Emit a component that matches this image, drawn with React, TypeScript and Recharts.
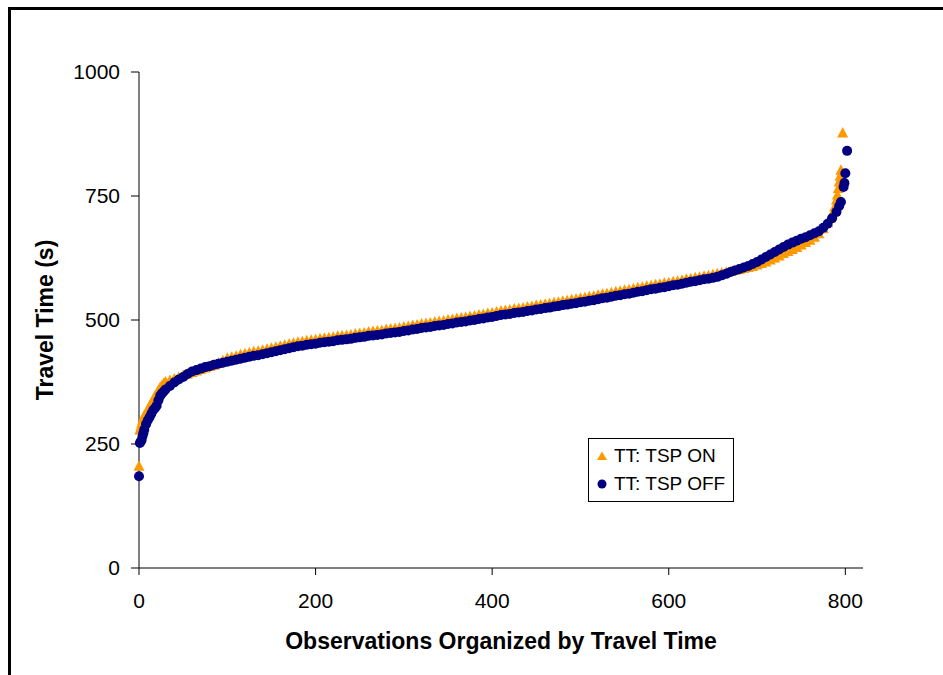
import { Label, Legend, Scatter, ScatterChart, XAxis, YAxis } from "recharts";

const tspOnPoints: [number, number][] = [
  [0, 205], [1, 278], [2, 285], [3, 292], [4, 298], [5, 303], [6, 307], [8, 313], [10, 319], [12, 326],
  [14, 333], [16, 339], [18, 346], [20, 352], [22, 358], [24, 364], [26, 368], [28, 372], [30, 375], [35, 378],
  [40, 381], [45, 384], [50, 388], [55, 391], [60, 394], [65, 397], [70, 400], [75, 403], [80, 406], [85, 409],
  [90, 413], [95, 418], [100, 423], [105, 425], [110, 427], [115, 430], [120, 432], [125, 434], [130, 436], [135, 437],
  [140, 439], [145, 441], [150, 443], [155, 445], [160, 447], [165, 449], [170, 451], [175, 453], [180, 455], [185, 456],
  [190, 458], [195, 459], [200, 460], [205, 462], [210, 463], [215, 464], [220, 465], [225, 467], [230, 468], [235, 469],
  [240, 470], [245, 472], [250, 473], [255, 474], [260, 476], [265, 477], [270, 478], [275, 479], [280, 481], [285, 482],
  [290, 483], [295, 484], [300, 486], [305, 487], [310, 489], [315, 490], [320, 492], [325, 493], [330, 494], [335, 496],
  [340, 497], [345, 498], [350, 500], [355, 501], [360, 503], [365, 504], [370, 505], [375, 507], [380, 508], [385, 510],
  [390, 511], [395, 513], [400, 514], [405, 516], [410, 518], [415, 519], [420, 520], [425, 522], [430, 523], [435, 524],
  [440, 526], [445, 527], [450, 529], [455, 530], [460, 532], [465, 533], [470, 535], [475, 536], [480, 538], [485, 539],
  [490, 541], [495, 542], [500, 544], [505, 545], [510, 547], [515, 548], [520, 550], [525, 552], [530, 553], [535, 555],
  [540, 557], [545, 558], [550, 560], [555, 561], [560, 563], [565, 565], [570, 566], [575, 568], [580, 569], [585, 571],
  [590, 572], [595, 574], [600, 575], [605, 577], [610, 578], [615, 580], [620, 582], [625, 583], [630, 585], [635, 586],
  [640, 588], [645, 589], [650, 591], [655, 593], [660, 595], [665, 596], [670, 598], [675, 600], [680, 602], [685, 604],
  [690, 606], [695, 608], [700, 611], [705, 614], [710, 617], [715, 621], [720, 625], [725, 629], [730, 634], [735, 638],
  [740, 642], [745, 646], [750, 651], [755, 656], [760, 661], [765, 667], [770, 674], [775, 684], [780, 696], [783, 705],
  [786, 716], [788, 728], [790, 742], [791, 752], [792, 765], [793, 778], [794, 790], [795, 802], [797, 877],
];

const tspOffPoints: [number, number][] = [
  [0, 185], [1, 252], [2, 255], [3, 258], [4, 266], [5, 272], [6, 279], [8, 290], [10, 298], [12, 304],
  [14, 311], [16, 318], [18, 322], [20, 327], [22, 338], [24, 347], [26, 352], [28, 356], [30, 360], [35, 367],
  [40, 374], [45, 380], [50, 385], [55, 391], [60, 396], [65, 399], [70, 402], [75, 405], [80, 407], [85, 410],
  [90, 412], [95, 414], [100, 416], [105, 418], [110, 420], [115, 422], [120, 424], [125, 426], [130, 428], [135, 429],
  [140, 431], [145, 433], [150, 435], [155, 437], [160, 439], [165, 441], [170, 443], [175, 445], [180, 447], [185, 448],
  [190, 450], [195, 451], [200, 452], [205, 454], [210, 455], [215, 456], [220, 457], [225, 459], [230, 460], [235, 461],
  [240, 462], [245, 464], [250, 465], [255, 466], [260, 468], [265, 469], [270, 470], [275, 471], [280, 473], [285, 474],
  [290, 475], [295, 476], [300, 478], [305, 479], [310, 481], [315, 482], [320, 484], [325, 485], [330, 486], [335, 488],
  [340, 489], [345, 490], [350, 492], [355, 493], [360, 495], [365, 496], [370, 497], [375, 499], [380, 500], [385, 502],
  [390, 503], [395, 505], [400, 506], [405, 508], [410, 510], [415, 511], [420, 512], [425, 514], [430, 515], [435, 516],
  [440, 518], [445, 519], [450, 521], [455, 522], [460, 524], [465, 525], [470, 527], [475, 528], [480, 530], [485, 531],
  [490, 533], [495, 534], [500, 536], [505, 537], [510, 539], [515, 540], [520, 542], [525, 544], [530, 545], [535, 547],
  [540, 549], [545, 550], [550, 552], [555, 553], [560, 555], [565, 557], [570, 558], [575, 560], [580, 562], [585, 563],
  [590, 565], [595, 566], [600, 568], [605, 570], [610, 571], [615, 573], [620, 575], [625, 577], [630, 578], [635, 580],
  [640, 582], [645, 583], [650, 585], [655, 587], [660, 590], [665, 593], [670, 597], [675, 600], [680, 603], [685, 606],
  [690, 609], [695, 613], [700, 617], [705, 622], [710, 627], [715, 632], [720, 637], [725, 642], [730, 647], [735, 652],
  [740, 656], [745, 660], [750, 664], [755, 667], [760, 671], [765, 675], [770, 679], [775, 686], [780, 694], [785, 705],
  [790, 718], [793, 730], [795, 738], [798, 768], [799, 776], [800, 796], [802, 841],
];

const xTicks = [0, 200, 400, 600, 800];
const yTicks = [0, 250, 500, 750, 1000];

const ORANGE = "#FF9900";
const NAVY = "#000080";
const FONT = "'Liberation Sans', Arial, sans-serif";

const tspOn = tspOnPoints.map(([obs, tt]) => ({ obs, tt }));
const tspOff = tspOffPoints.map(([obs, tt]) => ({ obs, tt }));

function Triangle({ cx, cy }: any) {
  return <path d={`M${cx},${cy - 6}L${cx + 5.5},${cy + 4.5}L${cx - 5.5},${cy + 4.5}Z`} fill={ORANGE} />;
}

function Dot({ cx, cy }: any) {
  return <circle cx={cx} cy={cy} r={5} fill={NAVY} />;
}

function LegendBox() {
  const row = { display: "flex", alignItems: "center", height: 28 } as const;
  return (
    <div
      style={{
        width: 146,
        height: 64,
        boxSizing: "border-box",
        border: "1px solid #000",
        background: "#fff",
        fontFamily: FONT,
        fontSize: 19,
        color: "#000",
        paddingTop: 3,
        paddingLeft: 7,
      }}
    >
      <div style={row}>
        <svg width={12} height={12} style={{ marginRight: 6 }}>
          <path d="M6,1.5L11,10L1,10Z" fill={ORANGE} />
        </svg>
        <span>TT: TSP ON</span>
      </div>
      <div style={row}>
        <svg width={12} height={12} style={{ marginRight: 6 }}>
          <circle cx={6} cy={6} r={4.5} fill={NAVY} />
        </svg>
        <span>TT: TSP OFF</span>
      </div>
    </div>
  );
}

export default function App() {
  return (
    <div style={{ position: "fixed", left: 0, top: 0, width: 943, height: 675, background: "#fff", overflow: "hidden" }}>
      <div
        style={{
          position: "absolute",
          left: 8,
          top: 7,
          width: 1000,
          height: 1000,
          borderTop: "3px solid #000",
          borderLeft: "3px solid #000",
        }}
      />
      <div style={{ position: "absolute", left: 0, top: 0 }}>
        <ScatterChart width={943} height={675} margin={{ top: 72, right: 80, bottom: 17, left: 0 }}>
          <XAxis
            type="number"
            dataKey="obs"
            domain={[0, 820]}
            ticks={xTicks}
            interval={0}
            height={90}
            tickSize={7}
            tickMargin={18}
            stroke="#000"
            tick={{ fill: "#000", fontSize: 21, fontFamily: FONT }}
          >
            <Label
              content={({ viewBox }: any) => (
                <text
                  x={viewBox.x + viewBox.width / 2}
                  y={viewBox.y + 81}
                  textAnchor="middle"
                  fontFamily={FONT}
                  fontSize={23}
                  fontWeight="bold"
                  fill="#000"
                >
                  Observations Organized by Travel Time
                </text>
              )}
            />
          </XAxis>
          <YAxis
            type="number"
            dataKey="tt"
            domain={[0, 1000]}
            ticks={yTicks}
            interval={0}
            width={139}
            tickSize={8}
            tickMargin={11}
            stroke="#000"
            tick={{ fill: "#000", fontSize: 21, fontFamily: FONT }}
          >
            <Label
              content={({ viewBox }: any) => {
                const x = viewBox.x + 53;
                const y = viewBox.y + viewBox.height / 2;
                return (
                  <text
                    x={x}
                    y={y}
                    transform={`rotate(-90 ${x} ${y})`}
                    textAnchor="middle"
                    fontFamily={FONT}
                    fontSize={23}
                    fontWeight="bold"
                    fill="#000"
                  >
                    Travel Time (s)
                  </text>
                );
              }}
            />
          </YAxis>
          <Legend
            layout="vertical"
            align="center"
            verticalAlign="middle"
            wrapperStyle={{ left: 588, top: 438, width: 146, height: 64 }}
            content={() => <LegendBox />}
          />
          <Scatter name="TT: TSP ON" data={tspOn} shape={Triangle} isAnimationActive={false} />
          <Scatter name="TT: TSP OFF" data={tspOff} shape={Dot} isAnimationActive={false} />
        </ScatterChart>
      </div>
    </div>
  );
}
